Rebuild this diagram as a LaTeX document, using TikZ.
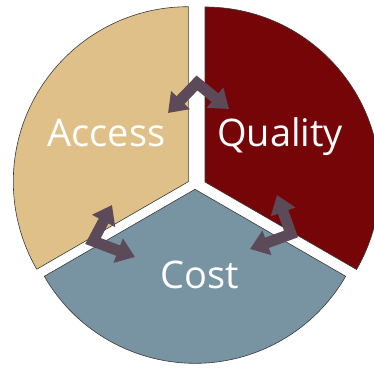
\documentclass[tikz,border=0pt]{standalone}
\usepackage{fontspec}
\setmainfont{Open Sans}
\usetikzlibrary{arrows.meta}
\definecolor{accessfill}{HTML}{DFC088}
\definecolor{qualityfill}{HTML}{760508}
\definecolor{costfill}{HTML}{7893A1}
\definecolor{linkcol}{HTML}{5D4A58}
\definecolor{rimcol}{HTML}{3A3A3A}
\tikzset{
  sector/.style={draw=rimcol, line width=0.6pt, line join=miter},
  label/.style={text=white, font=\fontsize{38}{40}\selectfont, anchor=base, inner sep=0pt},
  link/.style={draw=linkcol, line width=11pt, line join=miter, miter limit=10,
    {Triangle[width=25pt,length=18pt]}-{Triangle[width=25pt,length=18pt]}}
}
\begin{document}
\begin{tikzpicture}[x=1pt,y=1pt]
  \useasboundingbox (0,0) rectangle (374,367);
  \clip (0,0) rectangle (374,367);
  % three 120-degree sectors, pulled slightly apart
  \coordinate (acc) at (188.3,185.3);
  \coordinate (qua) at (205,185);
  \coordinate (cst) at (195,177.7);
  \fill[accessfill] (acc) -- ++(90:175) arc[start angle=90, end angle=210, radius=175] -- cycle;
  \draw[sector] (acc) -- ++(90:175) arc[start angle=90, end angle=210, radius=175] -- cycle;
  \fill[qualityfill] (qua) -- ++(90:175) arc[start angle=90, end angle=-30, radius=175] -- cycle;
  \draw[sector] (qua) -- ++(90:175) arc[start angle=90, end angle=-30, radius=175] -- cycle;
  \fill[costfill] (cst) -- ++(210:174) arc[start angle=210, end angle=330, radius=174] -- cycle;
  \draw[sector] (cst) -- ++(210:174) arc[start angle=210, end angle=330, radius=174] -- cycle;
  % labels
  \node[label] (laccess) at (106.5,220) {Access};
  \node[label] (lquality) at (280,220) {Quality};
  \node[label] (lcost) at (199.5,79) {Cost};
  % bent two-way arrows across the gaps
  \coordinate (t1) at (168,254);
  \coordinate (tc) at (197,284);
  \coordinate (t2) at (229,258);
  \draw[link] (t1) -- (tc) -- (t2);
  \coordinate (l1) at (112,162);
  \coordinate (lc) at (93,126);
  \coordinate (l2) at (135,110);
  \draw[link] (l1) -- (lc) -- (l2);
  \coordinate (r1) at (277,172);
  \coordinate (rc) at (291,133);
  \coordinate (r2) at (250,118);
  \draw[link] (r1) -- (rc) -- (r2);
\end{tikzpicture}
\end{document}
